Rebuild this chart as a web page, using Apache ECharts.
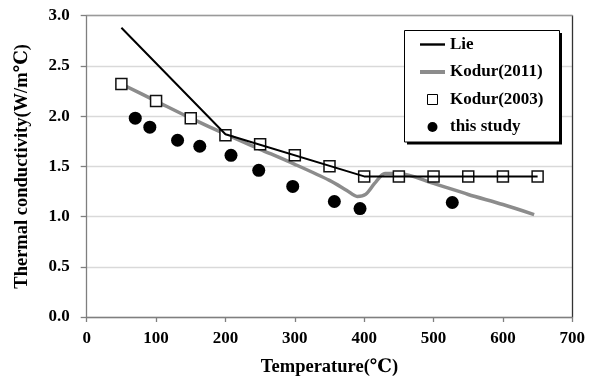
<!DOCTYPE html>
<html>
<head>
<meta charset="utf-8">
<script src="https://cdn.jsdelivr.net/npm/echarts@6/dist/echarts.min.js"></script>
<style>
html,body{margin:0;padding:0;background:#fff;}
#chart{width:596px;height:382px;}
</style>
</head>
<body>
<div id="chart"></div>
<script>
// ---- data ----
var xTicks = [0, 100, 200, 300, 400, 500, 600, 700];
var yTicks = [0.0, 0.5, 1.0, 1.5, 2.0, 2.5, 3.0];

var lieTemp = [50, 200, 400, 650];
var lieK    = [2.88, 1.82, 1.40, 1.40];

var kodur2011Temp = [50, 100, 150, 200, 250, 300, 350, 375, 390, 402, 415, 430, 450, 500, 550, 600, 645];
var kodur2011K    = [2.32, 2.15, 1.98, 1.82, 1.67, 1.52, 1.36, 1.26, 1.20, 1.22, 1.33, 1.43, 1.43, 1.33, 1.22, 1.12, 1.02];

var kodur2003Temp = [50, 100, 150, 200, 250, 300, 350, 400, 450, 500, 550, 600, 650];
var kodur2003K    = [2.32, 2.15, 1.98, 1.81, 1.72, 1.61, 1.50, 1.40, 1.40, 1.40, 1.40, 1.40, 1.40];

var studyTemp = [70, 91, 131, 163, 208, 248, 297, 357, 394, 527];
var studyK    = [1.98, 1.89, 1.76, 1.70, 1.61, 1.46, 1.30, 1.15, 1.08, 1.14];

var seriesNames = ['Lie', 'Kodur(2011)', 'Kodur(2003)', 'this study'];

function pairs(xs, ys) { return xs.map(function (x, i) { return [x, ys[i]]; }); }

var FONT = '"Liberation Serif", "Times New Roman", "DejaVu Serif", serif';
var txt = { color: '#000', fontFamily: FONT, fontWeight: 'bold', fontSize: 17 };

var chart = echarts.init(document.getElementById('chart'), null, { renderer: 'canvas' });
chart.setOption({
  animation: false,
  backgroundColor: '#fff',
  grid: { left: 86.7, right: 23.7, top: 15.7, bottom: 61.7, containLabel: false },
  graphic: [
    { type: 'rect', z: 90, silent: true, shape: { x: 407, y: 33, width: 155, height: 111.5 }, style: { fill: '#000' } },
    { type: 'rect', z: 91, silent: true, shape: { x: 404.5, y: 30.5, width: 155, height: 111.5 }, style: { fill: '#fff', stroke: '#000', lineWidth: 1 } }
  ],
  legend: {
    orient: 'vertical',
    left: 403, top: 30,
    z: 100,
    padding: [6, 16, 6, 17],
    itemWidth: 25, itemHeight: 10, itemGap: 10.5,
    symbolKeepAspect: true,
    textStyle: Object.assign({}, txt, { lineHeight: 17 }),
    selectedMode: false,
    data: [
      { name: seriesNames[0], icon: 'path://M0,0H25V2.4H0Z', itemStyle: { color: '#000', borderWidth: 0 } },
      { name: seriesNames[1], icon: 'path://M0,0H25V4H0Z', itemStyle: { color: '#8c8c8c', borderWidth: 0 } },
      { name: seriesNames[2], icon: 'path://M0,0H10V10H0Z', itemStyle: { color: '#fff', borderColor: '#000', borderWidth: 1 } },
      { name: seriesNames[3], icon: 'circle', itemStyle: { color: '#000', borderWidth: 0 } }
    ]
  },
  xAxis: [{
    type: 'value', min: xTicks[0], max: xTicks[xTicks.length - 1], interval: 100,
    name: 'Temperature(℃)', nameLocation: 'middle', nameGap: 41,
    nameTextStyle: Object.assign({}, txt, { fontSize: 18.5 }),
    axisLine: { show: true, lineStyle: { color: '#7f7f7f', width: 1.3 } },
    axisTick: { show: true, inside: false, length: 5, lineStyle: { color: '#7f7f7f', width: 1.3 } },
    axisLabel: Object.assign({ margin: 13, formatter: function (v) { return String(v); } }, txt),
    splitLine: { show: false }
  }, {
    type: 'value', position: 'top', min: xTicks[0], max: xTicks[xTicks.length - 1], interval: 100,
    axisLine: { show: true, onZero: false, lineStyle: { color: '#9a9a9a', width: 1.3 } },
    axisTick: { show: false }, axisLabel: { show: false }, splitLine: { show: false }
  }],
  yAxis: [{
    type: 'value', min: yTicks[0], max: yTicks[yTicks.length - 1], interval: 0.5,
    name: 'Thermal conductivity(W/m℃)', nameLocation: 'middle', nameGap: 55,
    nameTextStyle: Object.assign({}, txt, { fontSize: 18.5 }),
    axisLine: { show: true, lineStyle: { color: '#7f7f7f', width: 1.3 } },
    axisTick: { show: true, inside: false, length: 6, lineStyle: { color: '#7f7f7f', width: 1.3 } },
    axisLabel: Object.assign({ margin: 17, formatter: function (v) { return v.toFixed(1); } }, txt),
    splitLine: { show: true, lineStyle: { color: '#d9d9d9', width: 1.3 } }
  }, {
    type: 'value', position: 'right', min: yTicks[0], max: yTicks[yTicks.length - 1], interval: 0.5,
    axisLine: { show: true, onZero: false, lineStyle: { color: '#333', width: 1.3 } },
    axisTick: { show: false }, axisLabel: { show: false }, splitLine: { show: false }
  }],
  series: [
    {
      name: seriesNames[1], type: 'line', data: pairs(kodur2011Temp, kodur2011K),
      smooth: 0.3, symbol: 'none', z: 2,
      color: '#8c8c8c',
      lineStyle: { color: '#8c8c8c', width: 3.5 }
    },
    {
      name: seriesNames[2], type: 'scatter', data: pairs(kodur2003Temp, kodur2003K),
      symbol: 'rect', symbolSize: 11, z: 3,
      itemStyle: { color: '#fff', borderColor: '#111', borderWidth: 1.5, opacity: 1 }
    },
    {
      name: seriesNames[0], type: 'line', data: pairs(lieTemp, lieK),
      symbol: 'none', z: 4,
      color: '#000',
      lineStyle: { color: '#000', width: 2 }
    },
    {
      name: seriesNames[3], type: 'scatter', data: pairs(studyTemp, studyK),
      symbol: 'circle', symbolSize: 13, z: 5,
      itemStyle: { color: '#000', opacity: 1 }
    }
  ]
});
</script>
</body>
</html>
